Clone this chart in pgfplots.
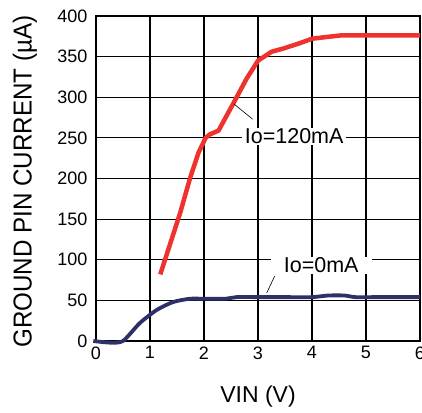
\documentclass[border=0pt]{standalone}
\usepackage{pgfplots}
\pgfplotsset{compat=1.18}
\usepackage{fontspec}
\setmainfont{Liberation Sans}
\definecolor{cred}{RGB}{238,50,45}
\definecolor{cblue}{RGB}{46,49,104}
\begin{document}
\begin{tikzpicture}
\path[use as bounding box] (-96pt,-71pt) rectangle (326pt,341pt);
\begin{axis}[
  at={(0pt,0pt)}, anchor=south west,
  scale only axis, width=324pt, height=325pt,
  xmin=0, xmax=6, ymin=0, ymax=400,
  xtick={0,1,...,6}, ytick={0,50,...,400},
  grid=major,
  major grid style={black, line width=1.1pt},
  axis line style={black, line width=1.6pt},
  major tick length=0pt,
  /pgf/number format/assume math mode=true,
  ticklabel style={font=\fontsize{18}{21}\selectfont},
  xticklabel style={yshift=-2pt},
  yticklabel style={xshift=-5pt},
  clip=false,
]
\addplot[cred, line width=4.5pt, line join=round] coordinates {
 (1.19,82) (1.4,125) (1.56,158) (1.74,200) (1.9,232) (2.03,250) (2.1,254) (2.27,259)
 (2.4,275) (2.54,292) (2.79,323) (3.0,345) (3.25,356) (3.47,360) (3.75,366) (4.0,372)
 (4.25,374) (4.52,376) (5.0,376) (5.5,376) (6.0,376)};
\addplot[cblue, line width=3.8pt, line join=round, smooth, tension=0.4] coordinates {
 (-0.05,0) (0.26,-2) (0.5,0) (0.81,22) (1.12,38) (1.43,48) (1.74,52) (2.0,52) (2.4,52)
 (2.6,54) (3.0,54) (3.5,54) (4.0,54) (4.3,56) (4.6,56) (4.8,54) (5.2,54) (6.0,54)};
\draw[black, line width=0.6pt] (axis cs:2.55,292) -- (axis cs:2.9,273);
\node[fill=white, inner xsep=3pt, inner ysep=1pt, font=\fontsize{21.5}{24}\selectfont]
  at (axis cs:3.67,252) {Io=120mA};
\draw[black, line width=0.6pt] (axis cs:3.16,59) -- (axis cs:3.31,80);
\node[fill=white, inner xsep=13pt, inner ysep=1pt, font=\fontsize{21.5}{24}\selectfont]
  at (axis cs:4.17,93) {Io=0mA};
\node[font=\fontsize{23}{26}\selectfont] at ([yshift=-56pt]axis description cs:0.5,0) {VIN (V)};
\node[rotate=90, font=\fontsize{26}{28}\selectfont] at ([xshift=-71pt,yshift=-3pt]axis description cs:0,0.5) {\scalebox{0.93}[1]{GROUND PIN CURRENT (µA)}};
\end{axis}
\end{tikzpicture}
\end{document}
